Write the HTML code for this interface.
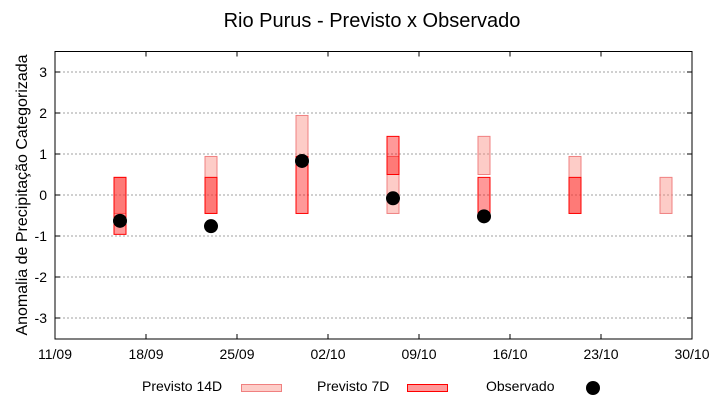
<!DOCTYPE html>
<html><head><meta charset="utf-8"><style>
body{margin:0;background:#fff;}
svg text{font-family:"Liberation Sans",sans-serif;}
</style></head><body>
<svg id="chart" width="720" height="400" xmlns="http://www.w3.org/2000/svg">
<text x="372" y="27" font-size="20" text-anchor="middle">Rio Purus - Previsto x Observado</text>
<text transform="translate(27,195) rotate(-90)" font-size="16" text-anchor="middle">Anomalia de Precipitação Categorizada</text>
<g id="grid"></g>
<g id="bars"></g>
<g id="dots"></g>
<rect x="55" y="51.5" width="637" height="287.5" fill="none" stroke="#000" stroke-width="1"/>
<g>
<text x="142" y="391" font-size="14">Previsto 14D</text>
<rect x="241.5" y="384.5" width="40" height="7" fill="#fdcdc8" stroke="#f08080"/>
<text x="317" y="391" font-size="14">Previsto 7D</text>
<rect x="407.5" y="384.5" width="40" height="7" fill="#ff9999" stroke="#ff0000"/>
<text x="486" y="391" font-size="14">Observado</text>
<circle cx="593" cy="388" r="7" fill="#000"/>
</g>
</svg>
<script>
const xTickLabels=["11/09","18/09","25/09","02/10","09/10","16/10","23/10","30/10"];
const yTicks=[-3,-2,-1,0,1,2,3];
const days=[5,12,19,26,33,40,47];
const p14Low=[-0.45,-0.45,0.94,-0.45,0.5,-0.45,-0.45];
const p14High=[0.43,0.94,1.94,0.94,1.43,0.94,0.43];
const p7Low=[-0.96,-0.45,-0.45,0.5,-0.45,-0.45,null];
const p7High=[0.43,0.43,0.94,1.43,0.43,0.43,null];
const obs=[-0.63,-0.76,0.83,-0.08,-0.52,null,null];
const NS="http://www.w3.org/2000/svg";
const X=d=>55+d*13;
const Y=v=>195-v*41;
function mk(t,a,p){const e=document.createElementNS(NS,t);for(const k in a)e.setAttribute(k,a[k]);p.appendChild(e);return e;}
const grid=document.getElementById('grid'),bars=document.getElementById('bars'),dots=document.getElementById('dots');
yTicks.forEach(v=>{
  const l=mk('line',{x1:55,x2:692,y1:Y(v),y2:Y(v),stroke:'#a0a0a0','stroke-dasharray':'2,2'},grid);
  
  
  mk('line',{x1:55,x2:60,y1:Y(v),y2:Y(v),stroke:'#000'},grid);
  mk('line',{x1:687,x2:692,y1:Y(v),y2:Y(v),stroke:'#000'},grid);
  const t=mk('text',{x:47,y:Y(v)+5,'font-size':14,'text-anchor':'end'},grid);t.textContent=v;
  
  
});
xTickLabels.forEach((s,i)=>{
  const x=X(i*7);
  mk('line',{x1:x,x2:x,y1:339,y2:334,stroke:'#000'},grid);
  mk('line',{x1:x,x2:x,y1:51.5,y2:56.5,stroke:'#000'},grid);
  const t=mk('text',{x:x,y:359,'font-size':14,'text-anchor':'middle'},grid);t.textContent=s;
  
  
});
days.forEach((d,i)=>{
  const x=X(d)-6;
  const r=mk('rect',{x:x,y:Y(p14High[i]),width:12,height:Y(p14Low[i])-Y(p14High[i]),fill:'rgba(250,128,114,0.4)',stroke:'#f08080'},bars);
  
  
  if(p7Low[i]!==null){
    const r2=mk('rect',{x:x,y:Y(p7High[i]),width:12,height:Y(p7Low[i])-Y(p7High[i]),fill:'rgba(255,0,0,0.4)',stroke:'#ff0000'},bars);
    
    
  }
  if(obs[i]!==null){
    const c=mk('circle',{cx:X(d),cy:Y(obs[i]),r:7,fill:'#000'},dots);
    
    
  }
});
</script>
</body></html>
